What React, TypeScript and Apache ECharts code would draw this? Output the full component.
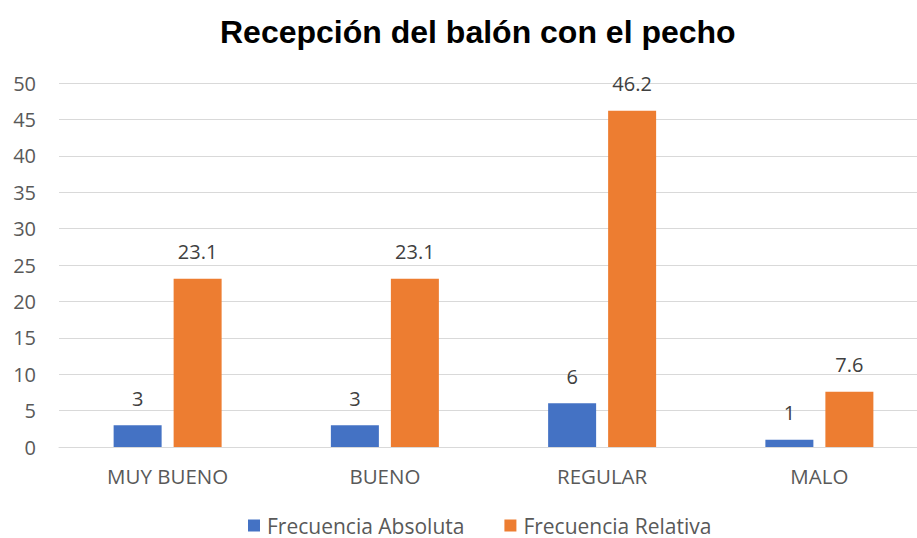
import React, { useEffect, useRef } from "react";
import * as echarts from "echarts";

const categories = ["MUY BUENO", "BUENO", "REGULAR", "MALO"];
const absoluta = [3, 3, 6, 1];
const relativa = [23.1, 23.1, 46.2, 7.6];
const seriesNames = ["Frecuencia Absoluta", "Frecuencia Relativa"];
const yTicks = { min: 0, max: 50, interval: 5 };

export default function App() {
  const ref = useRef<HTMLDivElement>(null);
  useEffect(() => {
    if (!ref.current) return;
    const chart = echarts.init(ref.current, null, { renderer: "svg" });
    const font = "'Open Sans', 'Noto Sans', sans-serif";
    const labelStyle = {
      show: true,
      position: "top" as const,
      distance: 17,
      color: "#404040",
      fontSize: 20,
      fontFamily: font,
    };
    chart.setOption({
      animation: false,
      backgroundColor: "#ffffff",
      title: {
        text: "Recepción del balón con el pecho",
        left: 215,
        top: 11,
        textStyle: {
          fontFamily: "'Liberation Sans', Arial, sans-serif",
          fontWeight: "bold",
          fontSize: 32,
          color: "#000000",
        },
      },
      legend: {
        bottom: -3,
        left: 243,
        itemWidth: 12,
        itemHeight: 12,
        itemGap: 40,
        icon: "rect",
        textStyle: { fontFamily: font, fontSize: 21, color: "#595959", padding: [0, 0, 0, 2] },
        data: seriesNames,
      },
      grid: { left: 59, right: -11, top: 83, bottom: 91, outerBoundsMode: "none" },
      xAxis: {
        type: "category",
        data: categories,
        axisLine: { lineStyle: { color: "#d9d9d9", width: 1 } },
        axisTick: { show: false },
        axisLabel: { color: "#595959", fontSize: 20.5, fontFamily: font, margin: 18 },
      },
      yAxis: {
        type: "value",
        min: yTicks.min,
        max: yTicks.max,
        interval: yTicks.interval,
        axisLine: { show: false },
        axisTick: { show: false },
        splitLine: { lineStyle: { color: "#d9d9d9", width: 1 } },
        axisLabel: { color: "#595959", fontSize: 20, fontFamily: font, margin: 23 },
      },
      series: [
        {
          name: seriesNames[0],
          type: "bar",
          data: absoluta,
          barWidth: 48,
          barGap: "25%",
          itemStyle: { color: "#4472c4" },
          label: labelStyle,
        },
        {
          name: seriesNames[1],
          type: "bar",
          data: relativa,
          barWidth: 48,
          itemStyle: { color: "#ed7d31" },
          label: labelStyle,
        },
      ],
    });
    return () => chart.dispose();
  }, []);
  return (
    <div
      ref={ref}
      style={{ position: "fixed", left: 0, top: 0, width: 917, height: 538 }}
    />
  );
}
